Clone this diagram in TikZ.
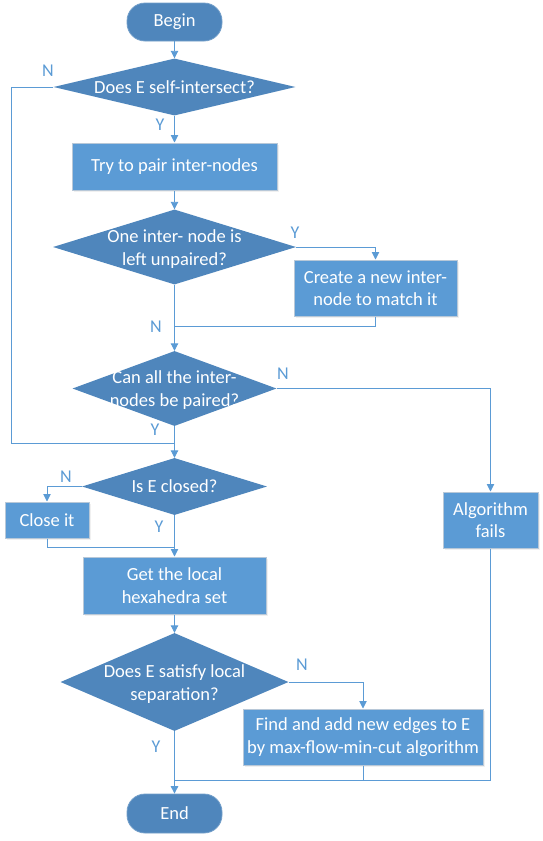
\documentclass[tikz,border=0pt]{standalone}
\usepackage{fontspec}
\setmainfont{Carlito}
\usetikzlibrary{arrows.meta,shapes.geometric,shadows}
\definecolor{dark}{HTML}{4F86BC}
\definecolor{light}{HTML}{5B9BD5}
\definecolor{lineblue}{HTML}{5B9BD5}
\definecolor{boxedge}{HTML}{B8C8D8}
\begin{document}
\begin{tikzpicture}[x=1pt,y=-1pt,
  every node/.style={font=\fontsize{18.5}{22.5}\selectfont},
  term/.style={rectangle, rounded corners=18pt, fill=dark, draw=dark!80!white, line width=0.8pt, text=white, inner sep=0pt},
  dia/.style={diamond, fill=dark, draw=none, inner sep=0pt, aspect=1},
  dtext/.style={text=white, align=center, inner sep=0pt},
  proc/.style={rectangle, fill=light, draw=boxedge, line width=1pt, text=white, align=center, inner sep=0pt,
    drop shadow={opacity=0.12, shadow xshift=1.5pt, shadow yshift=-1.5pt}},
  lab/.style={text=lineblue, font=\fontsize{18}{20}\selectfont, inner sep=0pt},
  conn/.style={draw=lineblue, line width=0.9pt},
  arr/.style={conn, -{Triangle[length=7.5pt,width=7.5pt]}}
]
\useasboundingbox (0,0) rectangle (543,841);

% nodes
\node[term, minimum width=95pt, minimum height=38pt] (begin) at (174.5,22) {Begin};
\node[dia, minimum width=242pt, minimum height=57pt] (d1) at (174.5,87) {};
\node[dtext] (d1t) at (d1) {Does E self-intersect?};
\node[proc, minimum width=205pt, minimum height=47pt] (b1) at (174.5,166.5) {Try to pair inter-nodes};
\node[dia, minimum width=243pt, minimum height=75pt] (d2) at (174.5,247) {};
\node[dtext] (d2t) at (174.5,249) {One inter- node is\\left unpaired?};
\node[proc, minimum width=163pt, minimum height=56pt] (b2) at (375.5,288) {Create a new inter-\\node to match it};
\node[dia, minimum width=204pt, minimum height=75pt] (d3) at (174.5,388.5) {};
\node[dtext] (d3t) at (174.5,390) {Can all the inter-\\nodes be paired?};
\node[proc, minimum width=95pt, minimum height=56pt] (fail) at (490.5,520) {Algorithm\\fails};
\node[dia, minimum width=185pt, minimum height=57pt] (d4) at (174.5,486.5) {};
\node[dtext] (d4t) at (d4) {Is E closed?};
\node[proc, minimum width=84pt, minimum height=36pt] (close) at (47,520) {Close it};
\node[proc, minimum width=183pt, minimum height=57pt] (b3) at (174.5,585.5) {Get the local\\hexahedra set};
\node[dia, minimum width=228pt, minimum height=98pt] (d5) at (174.5,682) {};
\node[dtext] (d5t) at (174.5,684) {Does E satisfy local\\separation?};
\node[proc, minimum width=240pt, minimum height=56pt] (b4) at (363,737) {Find and add new edges to E\\by max-flow-min-cut algorithm};
\node[term, minimum width=95pt, minimum height=39pt] (end) at (174.5,813.5) {End};

% junction coordinates
\coordinate (jl) at (11,87);
\coordinate (jl2) at (11,443);
\coordinate (jm1) at (174.5,443);
\coordinate (jm2) at (174.5,326);
\coordinate (jm3) at (174.5,547);
\coordinate (jm4) at (174.5,780);
\coordinate (jr) at (490.5,780);
\coordinate (jb4) at (363,780);

% connectors
\draw[arr] (begin) -- (d1);
\draw[arr] (d1.south) -- (b1.north);
\draw[arr] (b1.south) -- (d2.north);
\draw[arr] (d2.east) -| (b2.north);
\draw[conn] (b2.south) |- (jm2);
\draw[arr] (d2.south) -- (d3.north);
\draw[arr] (d3.east) -| (fail.north);
\draw[conn] (d1.west) -- (jl) -- (jl2) -- (jm1);
\draw[arr] (d3.south) -- (d4.north);
\draw[arr] (d4.west) -| (close.north);
\draw[conn] (close.south) |- (jm3);
\draw[arr] (d4.south) -- (b3.north);
\draw[arr] (b3.south) -- (d5.north);
\draw[arr] (d5.east) -| (b4.north);
\draw[conn] (b4.south) -- (jb4);
\draw[conn] (fail.south) -- (jr) -- (jm4);
\draw[arr] (d5.south) -- (end.north);

% labels
\node[lab] (n1) at (48,71) {N};
\node[lab] (y1) at (160,125) {Y};
\node[lab] (y2) at (295,233) {Y};
\node[lab] (n2) at (156,327) {N};
\node[lab] (n3) at (283,374) {N};
\node[lab] (y3) at (155,430) {Y};
\node[lab] (n4) at (66,477) {N};
\node[lab] (y4) at (159,527) {Y};
\node[lab] (n5) at (302,665) {N};
\node[lab] (y5) at (156,747) {Y};
\end{tikzpicture}
\end{document}
